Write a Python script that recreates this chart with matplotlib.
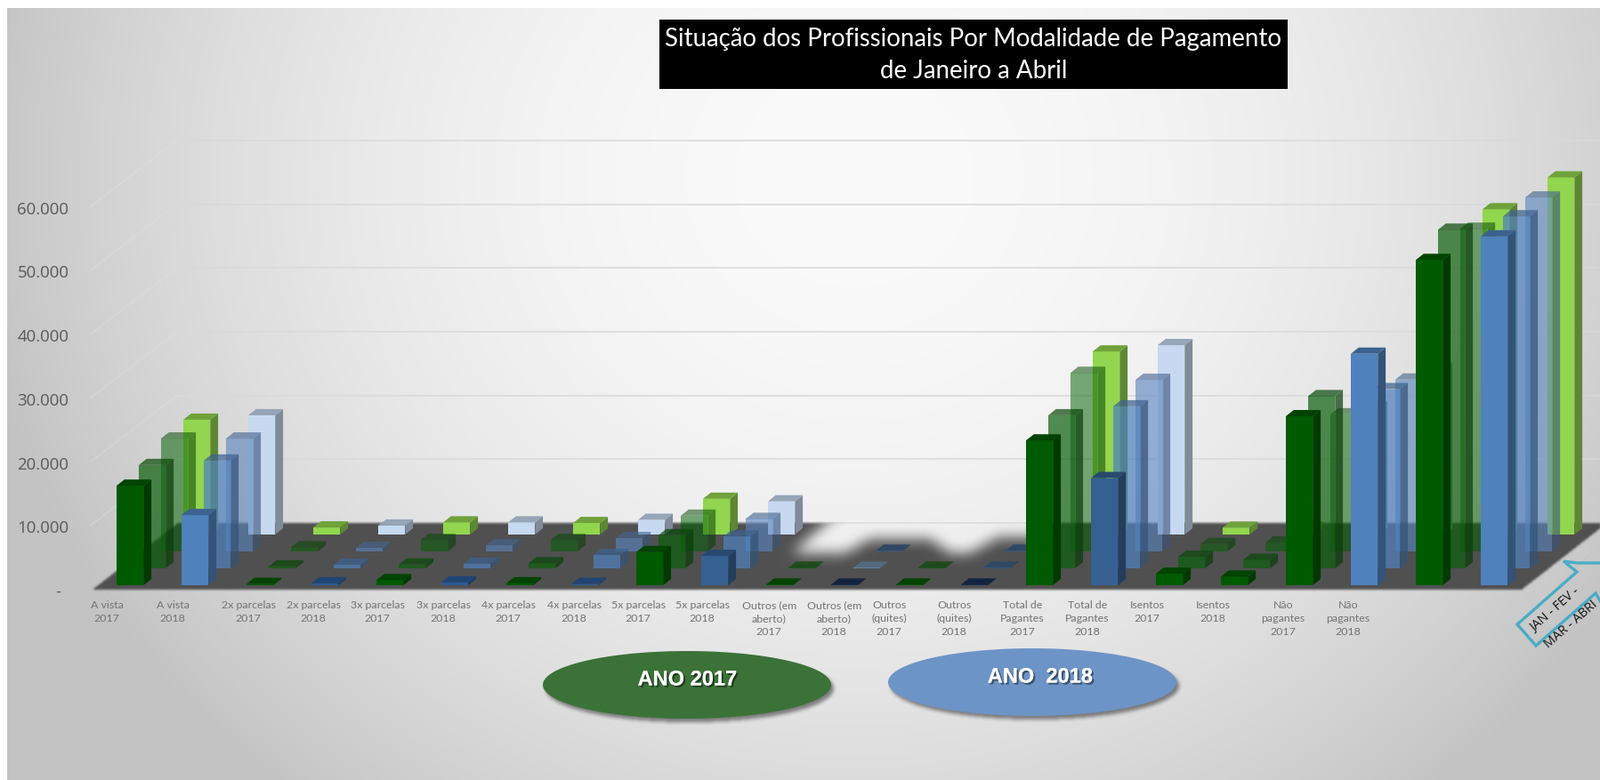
import numpy as np
import matplotlib
matplotlib.use("Agg")
import matplotlib.pyplot as plt
from matplotlib.patches import Polygon, Rectangle
from matplotlib.path import Path
import matplotlib.patheffects as pe

# category names, the last two have no label in the chart
categories = ["A vista\n2017", "A vista\n2018", "2x parcelas\n2017", "2x parcelas\n2018",
              "3x parcelas\n2017", "3x parcelas\n2018", "4x parcelas\n2017", "4x parcelas\n2018",
              "5x parcelas\n2017", "5x parcelas\n2018", "Outros (em\naberto)\n2017",
              "Outros (em\naberto)\n2018", "Outros\n(quites)\n2017", "Outros\n(quites)\n2018",
              "Total de\nPagantes\n2017", "Total de\nPagantes\n2018", "Isentos\n2017", "Isentos\n2018",
              "Não\npagantes\n2017", "Não\npagantes\n2018", "", ""]

jan = [15600, 11000, 200, 300, 800, 450, 300, 200, 5200, 4600, 100, 100, 100, 100,
       22700, 16800, 1800, 1350, 26500, 36300, 51000, 54700]
fev = [16200, 16900, 300, 550, 600, 700, 800, 2100, 5200, 5000, 100, 100, 100, 100,
       24000, 25400, 1800, 1350, 27000, 28100, 53100, 55200]
mar = [17700, 17700, 650, 550, 1800, 950, 1800, 2100, 5600, 5100, 0, 100, 0, 100,
       28000, 26900, 1150, 1400, 21500, 26950, 50600, 55500]
abr = [18000, 18700, 1100, 1400, 1900, 1900, 1800, 2300, 5600, 5200, 0, 0, 0, 0,
       28700, 29700, 1070, 1100, 20000, 26000, 51000, 56000]
months = [jan, fev, mar, abr]

y_ticks = [0, 10000, 20000, 30000, 40000, 50000, 60000]
family = ["g", "b"] * 8 + ["g", "g", "g", "b", "g", "b"]

# colour, alpha for each month
green_style = [("#005a00", 1.0), ("#0b5f0b", 0.7), ("#005f00", 0.52), ("#92d54e", 1.0)]
blue_style = [("#4f81bd", 1.0), ("#4f81bd", 0.72), ("#5b85bf", 0.62), ("#c6d9f1", 1.0)]
# points with their own colour (month, category)
special = {(0, 3): ("#2a5a98", 1.0), (0, 5): ("#2a5a98", 1.0), (0, 7): ("#2a5a98", 1.0),
           (0, 9): ("#366092", 1.0), (0, 15): ("#366092", 1.0),
           (0, 11): ("#1b2f52", 1.0), (0, 13): ("#1b2f52", 1.0),
           (1, 11): ("#708aa5", 1.0), (1, 13): ("#3f5f85", 1.0), (2, 11): ("#3f5f85", 1.0),
           (2, 13): ("#3f5f85", 1.0), (3, 21): ("#92d54e", 1.0)}

# label offset from the bar centre (excel places them unevenly)
label_shift = [-26, -25, -13, -13, -14, -13, -13, -12, -13, -14, -12, -12, -23, -23,
               -19, -19, -25, -24, -18, -18, 0, 0]

W, H = 1799, 877
px = 71.7 / 10000
bar_w, bar_dx, bar_dy = 30.3, 8.8, 7.0
font = ["Open Sans", "DejaVu Sans"]
narrow = ["Lato", "DejaVu Sans"]

fig = plt.figure(figsize=(W / 100, H / 100), dpi=100)
ax = fig.add_axes([0, 0, 1, 1])
ax.axis("off")

xx, yy = np.meshgrid(np.arange(W) + 0.5, np.arange(H) + 0.5)
grid_pts = np.column_stack([xx.ravel(), yy.ravel()])


def blur(a, r):
    k = np.ones(2 * r + 1) / (2 * r + 1)
    for _ in range(2):
        a = np.apply_along_axis(lambda m: np.convolve(m, k, mode="same"), 0, a)
        a = np.apply_along_axis(lambda m: np.convolve(m, k, mode="same"), 1, a)
    return a


def mask_of(points, r):
    m = Path(points).contains_points(grid_pts).reshape(H, W).astype(float)
    return blur(m, r) if r else m


def show_rgba(color, alpha, z):
    rgba = np.zeros((H, W, 4))
    rgba[..., :3] = matplotlib.colors.to_rgb(color)
    rgba[..., 3] = alpha
    ax.imshow(rgba, extent=(0, W, H, 0), aspect="auto", zorder=z, interpolation="bilinear")


def ellipse_pts(cx, cy, a, b):
    t = np.linspace(0, 2 * np.pi, 200)
    return np.column_stack([cx + a * np.cos(t), cy + b * np.sin(t)])


# background
d2 = ((xx - 960) / 950) ** 2 + ((yy - 200) / 870) ** 2
g = np.clip(250 - 50 * d2, 195, 255) / 255
bg = np.dstack([g, g, g])
bg[:, :8] = 1
bg[:9, :] = 1
ax.imshow(bg, extent=(0, W, H, 0), aspect="auto", zorder=0)


def project(cat, row, v):
    x = 131 + 73 * cat + 25 * row
    y = 658 - 19 * row - v * px
    return x, y


# gridlines on the walls
for t in y_ticks:
    yb = 588 - t * px
    ax.plot([199, W], [yb, yb], color="#d9d9d9", lw=1.1, zorder=1)
    if t > 0:
        ax.plot([101, 199], [yb + 75, yb], color="#e6e6e6", lw=1, alpha=0.3, zorder=1)

# floor, with the soft cut-out behind the "Outros" columns
floor = mask_of([(104, 663), (1710, 663), (1806, 588), (200, 588)], 1)
cut = mask_of([(948, 570), (890, 622), (950, 622), (978, 606), (1045, 606), (1068, 622),
               (1090, 622), (1122, 604), (1175, 604), (1175, 570)], 8)
show_rgba("#505050", floor * (1 - cut), 2)

z = 3
for row in [3, 2, 1, 0]:
    for cat in range(len(categories)):
        v = months[row][cat]
        if v == 0:
            continue
        style = green_style if family[cat] == "g" else blue_style
        c, a = special.get((row, cat), style[row])
        rgb = np.array(matplotlib.colors.to_rgb(c))
        x, y0 = project(cat, row, 0)
        _, y1 = project(cat, row, v)
        front = [(x, y0), (x + bar_w, y0), (x + bar_w, y1), (x, y1)]
        side = [(x + bar_w, y0), (x + bar_w + bar_dx, y0 - bar_dy),
                (x + bar_w + bar_dx, y1 - bar_dy), (x + bar_w, y1)]
        top = [(x, y1), (x + bar_w, y1), (x + bar_w + bar_dx, y1 - bar_dy), (x + bar_dx, y1 - bar_dy)]
        ax.add_patch(Polygon(front, closed=True, fc=(*rgb, a), ec="none", zorder=z))
        ax.add_patch(Polygon(side, closed=True, fc=(*(rgb * 0.64), a), ec="none", zorder=z))
        ax.add_patch(Polygon(top, closed=True, fc=(*(rgb * 0.76), a), ec="none", zorder=z))
    z += 1

# value axis labels
for t in y_ticks:
    if t > 0:
        ax.text(77.5, 666 - t * px, f"{t:,}".replace(",", "."), ha="right", va="center",
                fontsize=13.4, color="#595959", family=font, zorder=10)
    else:
        ax.text(65, 666, "-", ha="center", va="center", fontsize=13.4,
                color="#595959", family=font, zorder=10)

# category labels
for i, lab in enumerate(categories):
    if lab:
        ax.text(131 + bar_w / 2 + 73 * i + label_shift[i], 675, lab, ha="center", va="top",
                fontsize=8.9, color="#737373", family=narrow, linespacing=1.45, zorder=10)

# title
ax.add_patch(Rectangle((741.5, 22), 705.5, 77.5, fc="black", ec="none", zorder=11))
ax.text(1094, 62, "Situação dos Profissionais Por Modalidade de Pagamento\nde Janeiro a Abril",
        ha="center", va="center", color="white", fontsize=19.9, family=narrow, linespacing=1.47, zorder=12)

# year ovals
ovals = [(772, 770, "#3b7238", "ANO 2017", 772.5, 764), (1160, 767, "#6d94c6", "ANO  2018", 1169, 761)]
for cx, cy, col, lab, tx, ty in ovals:
    show_rgba("#000000", 0.45 * mask_of(ellipse_pts(cx + 3, cy + 4, 162, 38), 2), 8)
    ax.add_patch(Polygon(ellipse_pts(cx, cy, 162, 38), closed=True, fc=col, ec="none", zorder=9))
    ax.text(tx, ty, lab, ha="center", va="center", color="white", fontsize=17, fontweight="bold",
            family="Liberation Sans", zorder=10,
            path_effects=[pe.withSimplePatchShadow(offset=(1.5, -1.5), shadow_rgbFace="k", alpha=0.45),
                          pe.Normal()])

# arrow callout with the months
ax.plot([1709, 1790], [699, 621], color="#c4c4c4", lw=0.8, zorder=6)
ax.plot([1799, 1772, 1757, 1772, 1705, 1726, 1793, 1799], [633, 633, 631, 643, 702, 726, 667, 677],
        color="#4bacc6", lw=2.4, solid_joinstyle="miter", zorder=7)
ax.text(1748, 686, "JAN - FEV -", rotation=41, rotation_mode="anchor", ha="center", va="center",
        fontsize=10.3, color="#111111", family=font, zorder=10)
ax.text(1766, 702, "MAR - ABRI", rotation=41, rotation_mode="anchor", ha="center", va="center",
        fontsize=10.3, color="#111111", family=font, zorder=10)

ax.set_xlim(0, W)
ax.set_ylim(H, 0)
fig.savefig("out.png", dpi=100)
